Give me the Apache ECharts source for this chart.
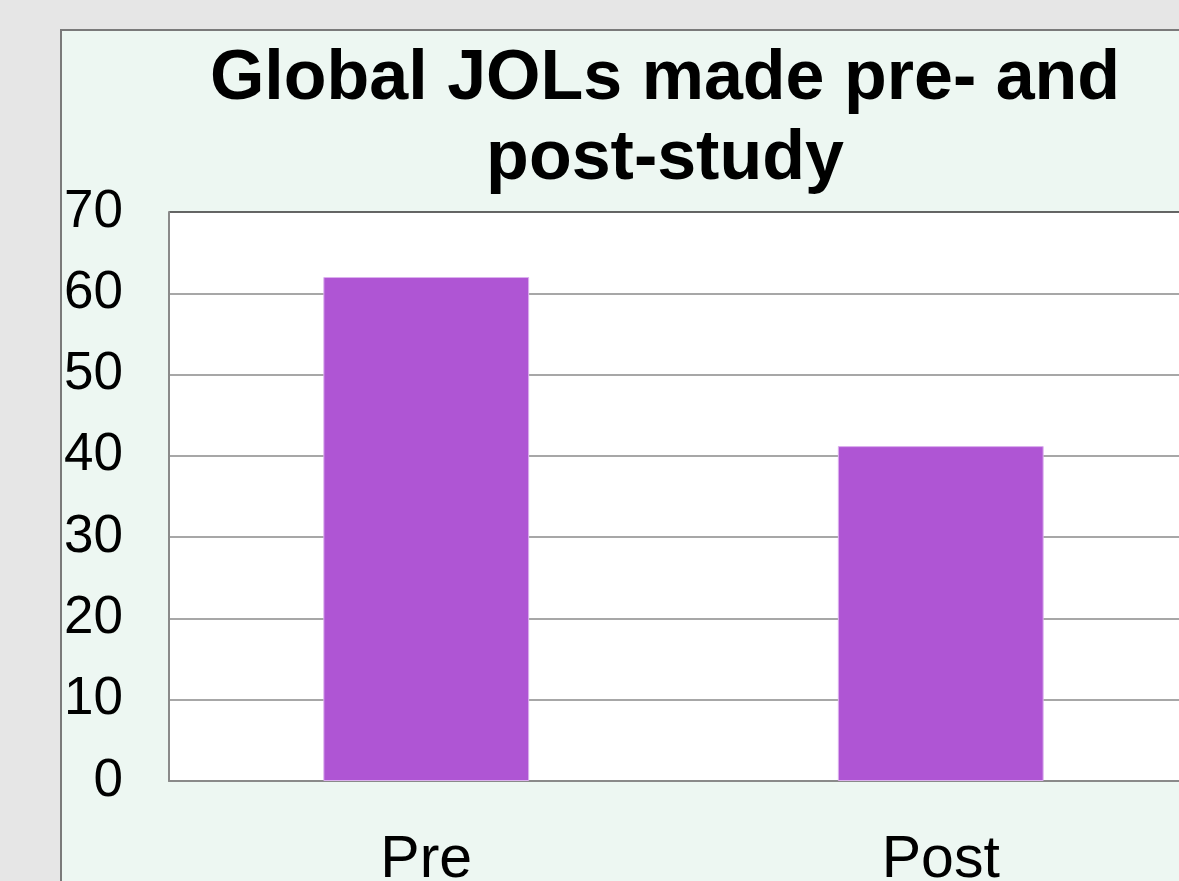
<!DOCTYPE html>
<html>
<head>
<meta charset="utf-8">
<script src="https://cdn.jsdelivr.net/npm/echarts@6/dist/echarts.min.js"></script>
<style>
  html, body { margin: 0; padding: 0; background: #e6e6e6; overflow: hidden; }
  #panel {
    position: absolute; left: 60px; top: 29px; width: 1200px; height: 900px;
    background: #edf7f2; border-left: 2px solid #7a7a7a; border-top: 2px solid #7a7a7a;
  }
  #chart { position: absolute; left: 0; top: 0; width: 1179px; height: 881px; }
</style>
</head>
<body>
<div id="panel"></div>
<div id="chart"></div>
<script>
  const categories = ['Pre', 'Post'];
  const jolValues = [62.0, 41.2];
  const yTicks = { min: 0, max: 70, interval: 10 };
  const titleText = 'Global JOLs made pre- and\npost-study';

  const chart = echarts.init(document.getElementById('chart'));

  // grid lines: light grey, top one darker like the original border
  let splitColors = [];
  for (let v = yTicks.min; v <= yTicks.max; v += yTicks.interval) {
    splitColors.push(v === yTicks.max ? '#333333' : '#8a8a8a');
  }

  let option = {
    backgroundColor: 'transparent',
    animation: false,
    title: {
      text: titleText,
      left: 660,
      top: 35,
      textAlign: 'center',
      textStyle: {
        fontFamily: 'Liberation Sans, Arial, sans-serif',
        fontWeight: 'bold',
        fontSize: 70,
        lineHeight: 80,
        color: '#000'
      }
    },
    grid: {
      left: 169,
      top: 212,
      width: 1029,
      height: 569,
      outerBoundsMode: 'none',
      containLabel: false,
      show: true,
      backgroundColor: '#ffffff',
      borderWidth: 0
    },
    xAxis: {
      type: 'category',
      data: categories,
      axisLine: { show: true, lineStyle: { color: '#8a8a8a', width: 2 } },
      axisTick: { show: false },
      axisLabel: {
        margin: 50,
        fontFamily: 'Liberation Sans, Arial, sans-serif',
        fontSize: 59,
        color: '#000'
      }
    },
    yAxis: {
      type: 'value',
      min: yTicks.min,
      max: yTicks.max,
      interval: yTicks.interval,
      axisLine: { show: true, lineStyle: { color: '#8a8a8a', width: 2 } },
      axisTick: { show: false },
      axisLabel: {
        margin: 46,
        fontFamily: 'Liberation Sans, Arial, sans-serif',
        fontSize: 53,
        color: '#000'
      },
      splitLine: { show: true, lineStyle: { color: splitColors, width: 1.5 } }
    },
    series: [
      {
        type: 'bar',
        data: jolValues,
        barWidth: '40%',
        itemStyle: { color: '#af55d4', borderColor: '#dcb0ee', borderWidth: 1 }
      }
    ]
  };

  chart.setOption(option);
</script>
</body>
</html>
